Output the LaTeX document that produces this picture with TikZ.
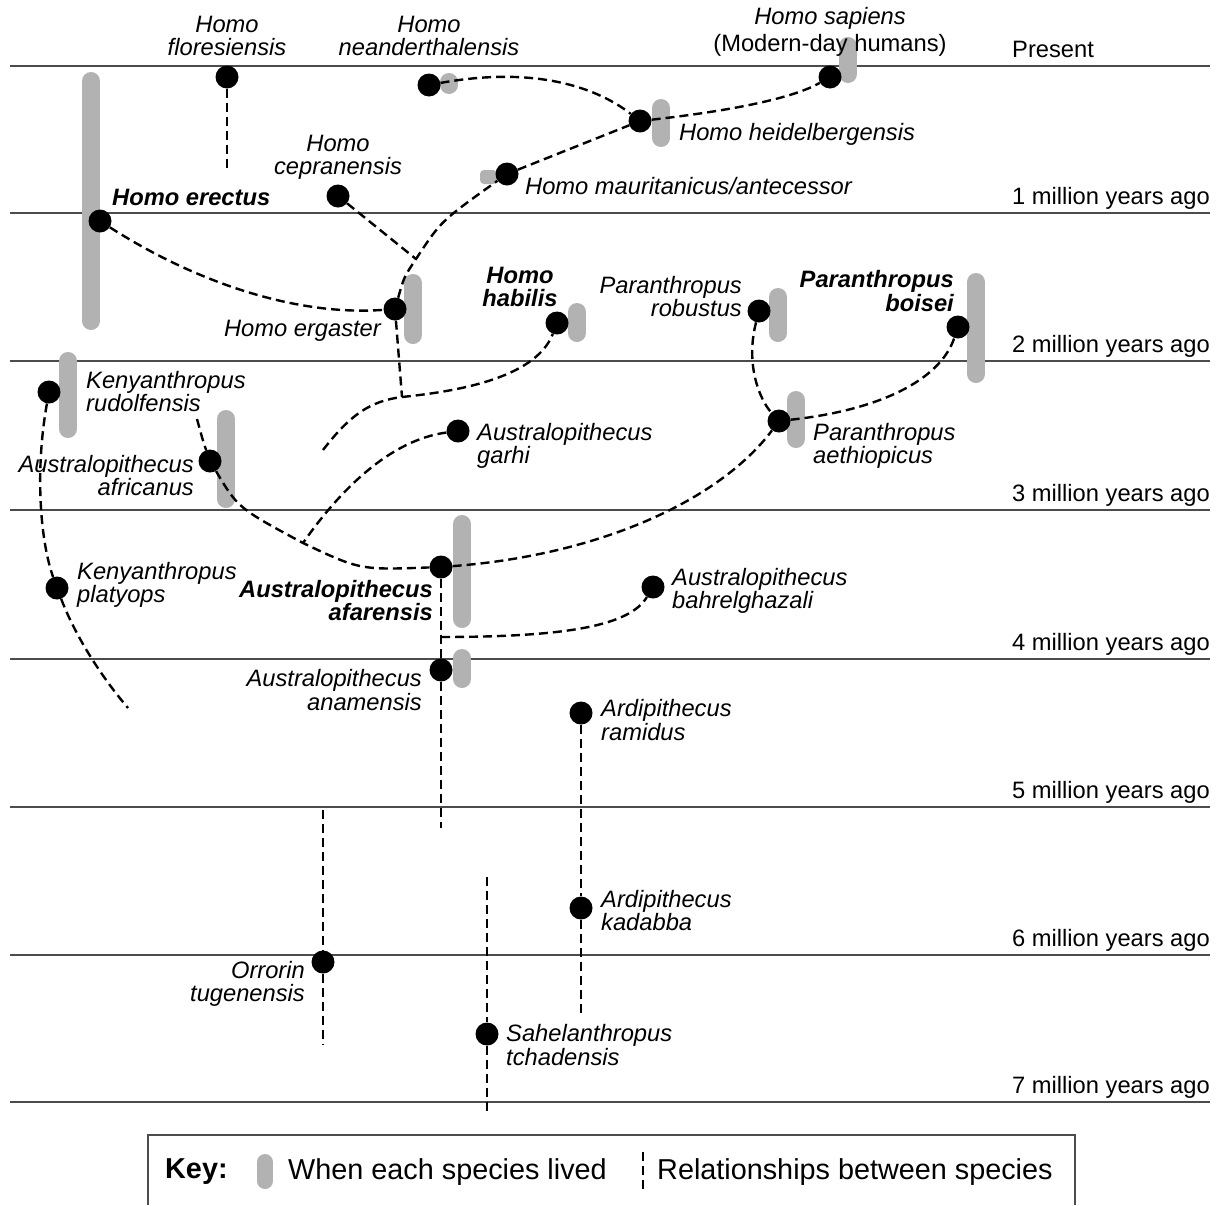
\documentclass[tikz,border=0pt]{standalone}
\usepackage{fontspec}
\setmainfont{Liberation Sans}

\begin{document}
\begin{tikzpicture}[x=1pt, y=-1pt,
    era/.style={black!70, line width=2.4pt},
    age/.style={anchor=base west, inner sep=0pt, font=\fontsize{23.7}{24}\selectfont},
    span/.style={gray!60, line width=18pt, line cap=round},
    sp/.style={circle, fill=black, minimum size=23pt, inner sep=0pt},
    kin/.style={line width=2.4pt, dash pattern=on 9pt off 5pt},
    spname/.style={inner sep=0pt, font=\fontsize{23.7}{23.5}\selectfont\itshape},
    spmain/.style={spname, font=\fontsize{23.7}{23.5}\selectfont\bfseries\itshape},
    keytxt/.style={inner sep=0pt, anchor=west, font=\fontsize{28.8}{30}\selectfont}]
    \fill[white] (0,0) rectangle (1228,1205);
    \useasboundingbox (0,0) rectangle (1228,1205);

    % Time lines and ages
    \foreach \y/\t in {66/Present, 213/1 million years ago, 361/2 million years ago,
        510/3 million years ago, 659/4 million years ago, 807/5 million years ago,
        955/6 million years ago, 1102/7 million years ago} {
        \draw[era] (10,\y) -- (1210,\y);
        \node[age] (age\y) at (1012,\y-9) {\t};
    }

    % When each species lived
    \draw[span] (91,81) -- (91,321); % erectus
    \draw[span] (449,82) -- (449,85); % neanderthalensis
    \draw[span] (848,46) -- (848,74); % sapiens
    \draw[span] (661,108) -- (661,138); % heidelbergensis
    \fill[gray!60, rounded corners=4pt] (480,170) rectangle (497,184); % mauritanicus
    \draw[span] (413,283) -- (413,335); % ergaster
    \draw[span] (577,312) -- (577,333); % habilis
    \draw[span] (778,297) -- (778,333); % robustus
    \draw[span] (976,282) -- (976,374); % boisei
    \draw[span] (68,361) -- (68,429); % rudolfensis
    \draw[span] (226,419) -- (226,499); % africanus
    \draw[span] (796,400) -- (796,439); % aethiopicus
    \draw[span] (462,524) -- (462,619); % afarensis
    \draw[span] (462,658) -- (462,679); % anamensis

    % Species
    \node[sp] (flo) at (227,77) {};
    \node[sp] (nea) at (429,85) {};
    \node[sp] (sap) at (830,77) {};
    \node[sp] (hei) at (640,121) {};
    \node[sp] (cep) at (338,196) {};
    \node[sp] (mau) at (507,174) {};
    \node[sp] (ere) at (100,221) {};
    \node[sp] (erg) at (395,309) {};
    \node[sp] (hab) at (557,323) {};
    \node[sp] (rob) at (759,311) {};
    \node[sp] (boi) at (958,327) {};
    \node[sp] (rud) at (49,392) {};
    \node[sp] (afr) at (210,461) {};
    \node[sp] (gar) at (458,431) {};
    \node[sp] (aet) at (779,421) {};
    \node[sp] (afa) at (441,567) {};
    \node[sp] (pla) at (57,588) {};
    \node[sp] (bah) at (653,587) {};
    \node[sp] (ana) at (441,670) {};
    \node[sp] (ram) at (581,713) {};
    \node[sp] (kad) at (581,908) {};
    \node[sp] (orr) at (323,962) {};
    \node[sp] (sah) at (487,1034) {};

    % Branch points and loose ends
    \coordinate (floend) at (227,170);
    \coordinate (jcep) at (416,259);
    \coordinate (jerg) at (402,397);
    \coordinate (habend) at (323,450);
    \coordinate (rudend) at (128,708);
    \coordinate (afrtop) at (197,419);
    \coordinate (jgar) at (303,543);
    \coordinate (jafa) at (441,637);
    \coordinate (anaend) at (441,828);
    \coordinate (kadend) at (581,1015);
    \coordinate (orrtop) at (323,810);
    \coordinate (orrend) at (323,1045);
    \coordinate (sahtop) at (487,877);
    \coordinate (sahend) at (487,1112);

    % Relationships
    \draw[kin] (flo) -- (floend);
    \draw[kin] (nea) .. controls (540,65) and (600,90) .. (hei);
    \draw[kin] (hei) .. controls (720,112) and (790,100) .. (sap);
    \draw[kin] (mau) -- (hei);
    \draw[kin] (erg) .. controls (404,277) .. (jcep) .. controls (441,221) .. (mau);
    \draw[kin] (cep) -- (jcep);
    \draw[kin] (ere) .. controls (200,285) and (300,316) .. (erg);
    \draw[kin] (erg) -- (jerg);
    \draw[kin] (habend) .. controls (350,415) and (370,401) .. (jerg)
        .. controls (450,392) and (535,380) .. (hab);
    \draw[kin] (rud) .. controls (35,470) and (40,540) .. (pla)
        .. controls (75,635) and (100,675) .. (rudend);
    \draw[kin] (afrtop) .. controls (203,441) .. (afr);
    \draw[kin] (afr) .. controls (238,508) .. (jgar) .. controls (360,570) .. (afa);
    \draw[kin] (gar) .. controls (390,440) and (340,490) .. (jgar);
    \draw[kin] (rob) .. controls (745,365) and (760,400) .. (aet);
    \draw[kin] (aet) .. controls (880,410) and (940,380) .. (boi);
    \draw[kin] (afa) .. controls (600,555) and (720,500) .. (aet);
    \draw[kin] (afa) -- (jafa);
    \draw[kin] (jafa) .. controls (570,637) and (630,625) .. (bah);
    \draw[kin] (ana) -- (jafa);
    \draw[kin] (ana) -- (anaend);
    \draw[kin] (ram) -- (kad) -- (kadend);
    \draw[kin] (orrtop) -- (orr) -- (orrend);
    \draw[kin] (sahtop) -- (sah) -- (sahend);

    % Names
    \node[spname, align=center] (flo-l) at (227,36) {Homo\\floresiensis};
    \node[spname, align=center] (nea-l) at (429,36) {Homo\\neanderthalensis};
    \node[spname, align=center, font=\fontsize{23.7}{27}\selectfont] (sap-l) at (830,32)
        {\itshape Homo sapiens\\(Modern-day humans)};
    \node[spname, align=center] (cep-l) at (338,157.5) {Homo\\cepranensis};
    \node[spmain, align=center] (hab-l) at (520,287) {Homo\\habilis};
    \node[spmain, anchor=west] (ere-l) at (112,197) {Homo erectus};
    \node[spname, anchor=west] (mau-l) at (525,186) {Homo mauritanicus/antecessor};
    \node[spname, anchor=west] (hei-l) at (679,134) {Homo heidelbergensis};
    \node[spname, anchor=east] (erg-l) at (381,331) {Homo ergaster};
    \node[spname, anchor=east, align=right] (rob-l) at (742,296.5) {Paranthropus\\robustus};
    \node[spmain, anchor=east, align=right] (boi-l) at (954,291) {Paranthropus\\boisei};
    \node[spname, anchor=west, align=left] (rud-l) at (86,391.5) {Kenyanthropus\\rudolfensis};
    \node[spname, anchor=east, align=right] (afr-l) at (194,475.5) {Australopithecus\\africanus};
    \node[spname, anchor=west, align=left] (gar-l) at (477,446) {Australopithecus\\garhi};
    \node[spname, anchor=west, align=left] (aet-l) at (813,446) {Paranthropus\\aethiopicus};
    \node[spmain, anchor=east, align=right] (afa-l) at (433,600.5) {Australopithecus\\afarensis};
    \node[spname, anchor=west, align=left] (pla-l) at (77,585) {Kenyanthropus\\platyops};
    \node[spname, anchor=west, align=left] (bah-l) at (672,591) {Australopithecus\\bahrelghazali};
    \node[spname, anchor=east, align=right] (ana-l) at (422,690) {Australopithecus\\anamensis};
    \node[spname, anchor=west, align=left] (ram-l) at (601,720) {Ardipithecus\\ramidus};
    \node[spname, anchor=west, align=left] (kad-l) at (601,910.5) {Ardipithecus\\kadabba};
    \node[spname, anchor=east, align=right] (orr-l) at (305,984) {Orrorin\\tugenensis};
    \node[spname, anchor=west, align=left] (sah-l) at (506,1045) {Sahelanthropus\\tchadensis};

    % Key
    \draw[black!70, line width=1.5pt] (148,1205) -- (148,1135) -- (1075,1135) -- (1075,1205);
    \node[keytxt, font=\fontsize{28.8}{30}\selectfont\bfseries] (key) at (165,1172) {Key:};
    \draw[span, line width=16pt] (265,1162) -- (265,1181);
    \node[keytxt] (key-span) at (288,1172) {When each species lived};
    \draw[kin] (643,1152) -- (643,1192);
    \node[keytxt] (key-kin) at (657,1172) {Relationships between species};
\end{tikzpicture}
\end{document}
